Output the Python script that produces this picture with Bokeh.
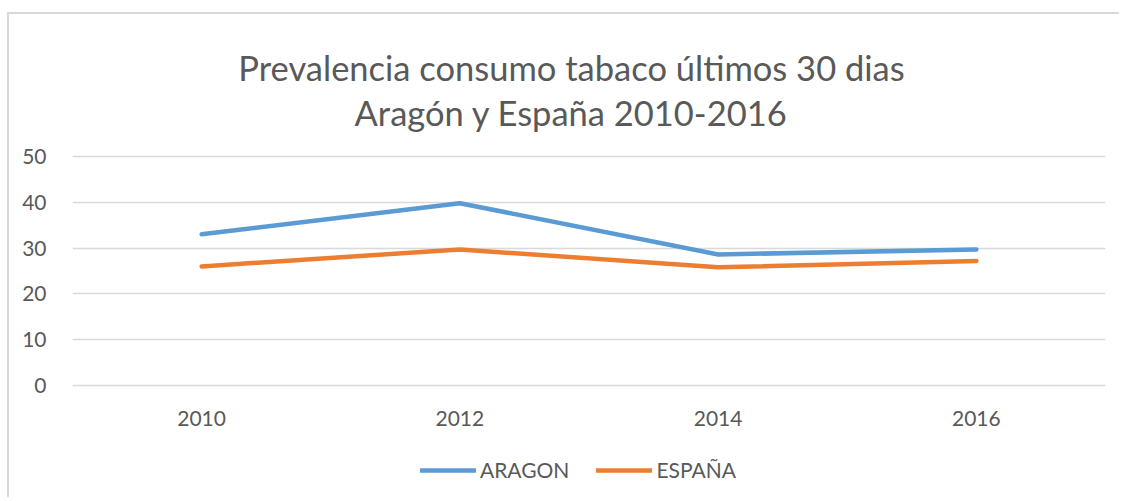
from bokeh.plotting import figure
from bokeh.models import Range1d, Label, Legend, LegendItem, ColumnDataSource
from bokeh.embed import file_html
from bokeh.resources import INLINE

years = ["2010", "2012", "2014", "2016"]
aragon = [33.0, 39.8, 28.6, 29.7]
espana = [26.0, 29.7, 25.8, 27.2]
y_ticks = [0, 10, 20, 30, 40, 50]
title_line1 = "Prevalencia consumo tabaco últimos 30 dias"
title_line2 = "Aragón y España 2010-2016"

FONT = "Lato"
GREY = "#595959"

p = figure(x_range=years, y_range=Range1d(-24.9, 81.0), width=1112, height=485,
           output_backend="svg", toolbar_location=None,
           min_border_left=63, min_border_right=16, min_border_top=0, min_border_bottom=0)
p.title = None
p.outline_line_color = None
p.background_fill_color = "white"
p.border_fill_color = "white"

src = ColumnDataSource(dict(x=years, a=aragon, e=espana))
r1 = p.line("x", "a", source=src, line_color="#5B9BD5", line_width=4.5, line_cap="round", line_join="round")
r2 = p.line("x", "e", source=src, line_color="#ED7D31", line_width=4.5, line_cap="round", line_join="round")

p.yaxis.ticker = y_ticks
for ax in (p.xaxis[0], p.yaxis[0]):
    ax.axis_line_color = None
    ax.major_tick_line_color = None
    ax.minor_tick_line_color = None
    ax.major_label_text_font = FONT
    ax.major_label_text_font_size = "21px"
    ax.major_label_text_color = GREY
p.yaxis.major_label_standoff = 20
p.xaxis.major_label_standoff = 20
p.xaxis.fixed_location = 0
p.xgrid.grid_line_color = None
p.ygrid.grid_line_color = "#D9D9D9"
p.ygrid.grid_line_width = 1.5

for txt, yb in ((title_line1, 432), (title_line2, 387)):
    p.add_layout(Label(x=499, y=yb, x_units="screen", y_units="screen", text=txt,
                       text_align="center", text_baseline="alphabetic",
                       text_font=FONT, text_font_size="34.5px", text_color=GREY))

legend = Legend(items=[LegendItem(label="ARAGON", renderers=[r1]),
                       LegendItem(label="ESPAÑA", renderers=[r2])],
                orientation="horizontal", location=(348, 17),
                label_text_font=FONT, label_text_font_size="21px", label_text_color=GREY,
                glyph_width=56, glyph_height=20, label_standoff=4, spacing=27,
                border_line_color=None, background_fill_alpha=0, margin=0, padding=0)
p.add_layout(legend, "center")

p.margin = (14, 0, 0, 9)
p.styles = {"box-shadow": "-2px -2px 0px 0px #D9D9D9", "background-color": "white"}

open("out.html", "w").write(file_html(p, INLINE))
